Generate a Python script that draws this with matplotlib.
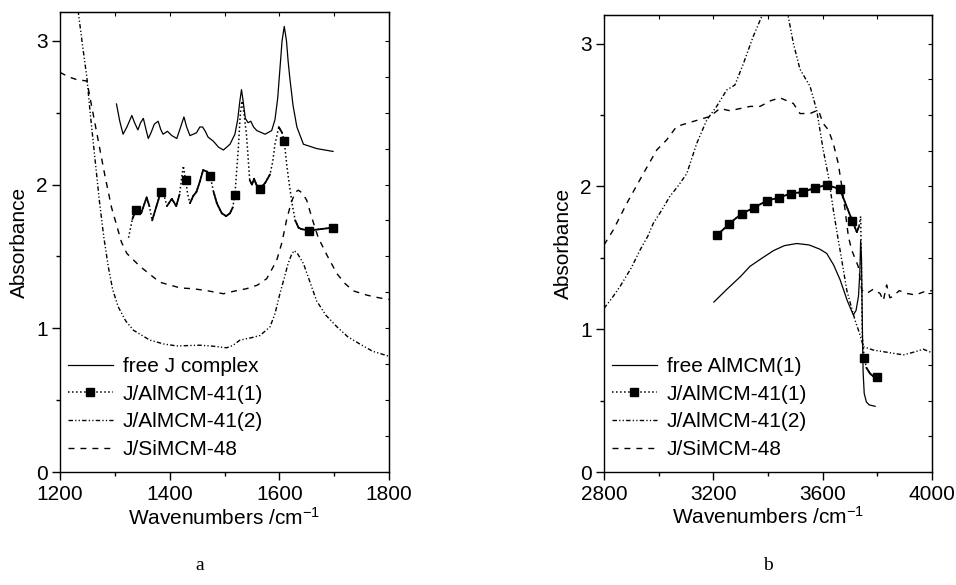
import numpy as np
import matplotlib
matplotlib.use('Agg')
import matplotlib.pyplot as plt
from matplotlib.ticker import MultipleLocator

plt.rcParams['font.family'] = ['Liberation Sans', 'DejaVu Sans']
plt.rcParams['mathtext.fontset'] = 'custom'
plt.rcParams['mathtext.rm'] = 'Liberation Sans'
plt.rcParams['mathtext.it'] = 'Liberation Sans'
plt.rcParams['lines.scale_dashes'] = False

# ---- panel a: J complex region ----
free_j_x = [1303, 1309, 1315, 1322, 1331, 1336, 1342, 1347, 1352, 1357, 1361, 1366, 1372, 1379,
            1384, 1388, 1396, 1404, 1413, 1420, 1426, 1431, 1437, 1443, 1449, 1455, 1460, 1465,
            1470, 1480, 1489, 1498, 1510, 1519, 1524, 1528, 1531, 1534, 1538, 1543, 1548, 1553,
            1559, 1574, 1586, 1592, 1597, 1601, 1605, 1609, 1613, 1616, 1619, 1625, 1632, 1644,
            1668, 1698]
free_j_y = [2.56, 2.44, 2.35, 2.40, 2.48, 2.43, 2.38, 2.43, 2.46, 2.38, 2.32, 2.36, 2.42, 2.44,
            2.38, 2.35, 2.37, 2.34, 2.32, 2.40, 2.47, 2.40, 2.34, 2.35, 2.36, 2.40, 2.40, 2.37,
            2.33, 2.30, 2.26, 2.24, 2.28, 2.35, 2.45, 2.58, 2.66, 2.58, 2.46, 2.43, 2.44, 2.40,
            2.375, 2.35, 2.375, 2.45, 2.60, 2.80, 3.00, 3.10, 3.00, 2.86, 2.745, 2.55, 2.40, 2.28,
            2.25, 2.23]

j41_1a_x = [1325, 1332, 1339, 1348, 1358, 1363, 1368, 1376, 1384, 1390, 1395, 1404, 1412, 1418,
            1422, 1425, 1429, 1433, 1437, 1443, 1449, 1455, 1461, 1468, 1474, 1480, 1486, 1495,
            1503, 1510, 1515, 1519, 1525, 1529, 1532, 1536, 1540, 1546, 1550, 1554, 1558, 1564,
            1574, 1583, 1588, 1592, 1599, 1605, 1609, 1614, 1619, 1624, 1629, 1635, 1640, 1654,
            1676, 1698]
j41_1a_y = [1.63, 1.76, 1.826, 1.80, 1.91, 1.85, 1.75, 1.85, 1.95, 1.92, 1.85, 1.90, 1.85, 1.93,
            2.05, 2.13, 2.03, 1.93, 1.87, 1.92, 1.95, 2.02, 2.10, 2.09, 2.056, 1.95, 1.87, 1.80,
            1.78, 1.80, 1.84, 1.93, 2.24, 2.50, 2.58, 2.48, 2.35, 2.03, 2.00, 2.04, 2.00, 1.97,
            2.01, 2.07, 2.16, 2.28, 2.40, 2.36, 2.30, 2.12, 1.98, 1.85, 1.75, 1.70, 1.69, 1.68,
            1.69, 1.70]
j41_1a_marks = [1339, 1384, 1429, 1474, 1519, 1564, 1609, 1654, 1698]

j41_2a_x = [1233, 1241, 1249, 1255, 1261, 1272, 1280, 1288, 1296, 1306, 1320, 1334, 1364, 1390,
            1413, 1455, 1480, 1504, 1515, 1528, 1550, 1565, 1583, 1592, 1601, 1609, 1616, 1622,
            1627, 1633, 1644, 1656, 1668, 1685, 1705, 1725, 1747, 1770, 1800]
j41_2a_y = [3.21, 2.97, 2.745, 2.50, 2.28, 1.88, 1.63, 1.43, 1.27, 1.15, 1.05, 0.986, 0.917, 0.89,
            0.877, 0.882, 0.875, 0.864, 0.88, 0.917, 0.935, 0.95, 1.01, 1.10, 1.24, 1.35, 1.45, 1.51,
            1.54, 1.52, 1.45, 1.32, 1.19, 1.09, 1.01, 0.94, 0.89, 0.84, 0.805]

si48a_x = [1200, 1215, 1230, 1249, 1260, 1271, 1282, 1294, 1303, 1312, 1322, 1346, 1382, 1420,
           1443, 1470, 1498, 1520, 1540, 1560, 1577, 1595, 1605, 1613, 1622, 1630, 1635, 1642,
           1650, 1660, 1671, 1688, 1705, 1720, 1735, 1760, 1784, 1800]
si48a_y = [2.78, 2.75, 2.73, 2.72, 2.50, 2.28, 2.06, 1.84, 1.72, 1.60, 1.52, 1.43, 1.32, 1.28,
           1.275, 1.26, 1.24, 1.26, 1.275, 1.30, 1.345, 1.47, 1.60, 1.75, 1.88, 1.95, 1.96, 1.94,
           1.89, 1.76, 1.63, 1.50, 1.38, 1.31, 1.26, 1.23, 1.21, 1.20]

# ---- panel b: OH region ----
free_al_x = [3202, 3250, 3300, 3334, 3380, 3420, 3460, 3505, 3550, 3590, 3615, 3640, 3664, 3690,
             3712, 3722, 3731, 3736, 3739, 3742, 3745, 3748, 3752, 3760, 3770, 3792]
free_al_y = [1.19, 1.28, 1.37, 1.44, 1.50, 1.55, 1.585, 1.60, 1.59, 1.56, 1.53, 1.45, 1.345, 1.20,
             1.10, 1.13, 1.23, 1.40, 1.62, 1.50, 1.05, 0.70, 0.55, 0.49, 0.47, 0.46]

j41_1b_x = [3215, 3259, 3304, 3349, 3395, 3439, 3483, 3527, 3572, 3617, 3663, 3708, 3725, 3733,
            3739, 3742, 3745, 3752, 3760, 3773, 3785, 3798]
j41_1b_y = [1.66, 1.74, 1.81, 1.85, 1.90, 1.92, 1.95, 1.96, 1.99, 2.01, 1.98, 1.76, 1.68, 1.72,
            1.79, 1.40, 0.95, 0.80, 0.73, 0.69, 0.67, 0.665]
j41_1b_marks = [3215, 3259, 3304, 3349, 3395, 3439, 3483, 3527, 3572, 3617, 3663, 3708, 3752, 3798]

j41_2b_x = [2800, 2830, 2859, 2900, 2932, 2960, 2980, 3010, 3041, 3070, 3103, 3139, 3176, 3212,
            3249, 3279, 3310, 3346, 3377, 3400, 3430, 3460, 3474, 3493, 3517, 3554, 3578, 3590,
            3602, 3621, 3639, 3657, 3664, 3688, 3718, 3735, 3749, 3785, 3830, 3895, 3935, 3968, 4000]
j41_2b_y = [1.146, 1.22, 1.30, 1.43, 1.555, 1.65, 1.74, 1.83, 1.93, 2.00, 2.09, 2.30, 2.465, 2.56,
            2.675, 2.71, 2.86, 3.05, 3.19, 3.28, 3.33, 3.28, 3.19, 3.00, 2.82, 2.70, 2.535, 2.395,
            2.255, 2.07, 1.835, 1.625, 1.55, 1.275, 1.065, 0.97, 0.877, 0.854, 0.84, 0.82, 0.84,
            0.86, 0.835]

si48b_x = [2800, 2834, 2883, 2944, 2993, 3029, 3066, 3127, 3188, 3224, 3260, 3298, 3335, 3371,
           3410, 3444, 3493, 3517, 3554, 3584, 3602, 3621, 3639, 3657, 3670, 3682, 3694, 3706,
           3730, 3743, 3761, 3785, 3810, 3822, 3834, 3846, 3858, 3880, 3908, 3940, 3968, 4000]
si48b_y = [1.59, 1.695, 1.88, 2.09, 2.255, 2.325, 2.42, 2.455, 2.49, 2.545, 2.53, 2.545, 2.56, 2.56,
           2.60, 2.62, 2.58, 2.51, 2.51, 2.535, 2.44, 2.395, 2.30, 2.16, 2.00, 1.835, 1.65, 1.555,
           1.44, 1.275, 1.25, 1.28, 1.25, 1.20, 1.31, 1.22, 1.23, 1.27, 1.25, 1.24, 1.26, 1.27]

FS = 15
dotted = (0, (1.1, 1.8))
dashdotdot = (0, (3.2, 1.6, 0.9, 1.6, 0.9, 1.6))
dashed = (0, (4.3, 4.3))

fig = plt.figure(figsize=(9.56, 5.85), dpi=100)
ax_a = fig.add_axes([60 / 956, 113 / 585, 329 / 956, 460 / 585])
ax_b = fig.add_axes([604 / 956, 113 / 585, 328 / 956, 457 / 585])


def style_axes(ax, xlim, major, top_step):
    ax.set_xlim(*xlim)
    ax.set_ylim(0, 3.2)
    ax.xaxis.set_major_locator(MultipleLocator(major))
    ax.xaxis.set_minor_locator(MultipleLocator(major / 2))
    ax.yaxis.set_major_locator(MultipleLocator(1))
    ax.yaxis.set_minor_locator(MultipleLocator(0.5))
    ax.tick_params(which='major', direction='out', length=6, width=1, labelsize=FS, pad=3)
    ax.tick_params(which='minor', direction='out', length=3, width=1)
    for s in ax.spines.values():
        s.set_linewidth(1.0)
    top = ax.secondary_xaxis('top')
    top.set_xticks(np.arange(xlim[0], xlim[1] + 1, top_step))
    top.tick_params(direction='in', length=3, width=0.8, labeltop=False)
    right = ax.secondary_yaxis('right')
    right.set_yticks(np.arange(0, 3.21, 0.25))
    right.tick_params(direction='in', length=3, width=0.8, labelright=False)
    ax.set_ylabel('Absorbance', fontsize=FS)
    ax.set_xlabel('Wavenumbers /cm$^{-1}$', fontsize=FS)
    ax.yaxis.set_label_coords(-0.095, 0.5)
    ax.xaxis.set_label_coords(0.5, -0.075)


def marker_line(ax, x, y, marks, label):
    idx = [x.index(m) for m in marks]
    ax.plot(x, y, color='black', lw=1.1, linestyle=dotted, marker='s', markersize=5.5,
            markevery=idx, label=label)
    # steep parts look dotted, shallow parts look solid (as in the original plot)
    pts = ax.transData.transform(np.column_stack([x, y]))
    for i in range(len(x) - 1):
        dx = abs(pts[i + 1, 0] - pts[i, 0])
        dy = abs(pts[i + 1, 1] - pts[i, 1])
        if dy < 3.5 * dx:
            ax.plot(x[i:i + 2], y[i:i + 2], color='black', lw=1.3, solid_capstyle='round')


style_axes(ax_a, (1200, 1800), 200, 100)
style_axes(ax_b, (2800, 4000), 400, 200)

ax_a.plot(free_j_x, free_j_y, color='black', lw=0.9, label='free J complex')
marker_line(ax_a, j41_1a_x, j41_1a_y, j41_1a_marks, 'J/AlMCM-41(1)')
ax_a.plot(j41_2a_x, j41_2a_y, color='black', lw=1.0, linestyle=dashdotdot, label='J/AlMCM-41(2)')
ax_a.plot(si48a_x, si48a_y, color='black', lw=1.0, linestyle=dashed, label='J/SiMCM-48')

ax_b.plot(free_al_x, free_al_y, color='black', lw=0.9, label='free AlMCM(1)')
marker_line(ax_b, j41_1b_x, j41_1b_y, j41_1b_marks, 'J/AlMCM-41(1)')
ax_b.plot(j41_2b_x, j41_2b_y, color='black', lw=1.0, linestyle=dashdotdot, label='J/AlMCM-41(2)')
ax_b.plot(si48b_x, si48b_y, color='black', lw=1.0, linestyle=dashed, label='J/SiMCM-48')

for ax in (ax_a, ax_b):
    h, l = ax.get_legend_handles_labels()
    ax.legend(h[:4], l[:4], loc='lower left', bbox_to_anchor=(0.024, 0.028), frameon=False,
              fontsize=FS, borderpad=0, borderaxespad=0, handlelength=2.15,
              handletextpad=0.5, labelspacing=0.42)

fig.text(200 / 956, 0.034, 'a', fontsize=14, family='Liberation Serif', ha='center', va='center')
fig.text(768 / 956, 0.034, 'b', fontsize=14, family='Liberation Serif', ha='center', va='center')

fig.savefig('out.png', dpi=100)
